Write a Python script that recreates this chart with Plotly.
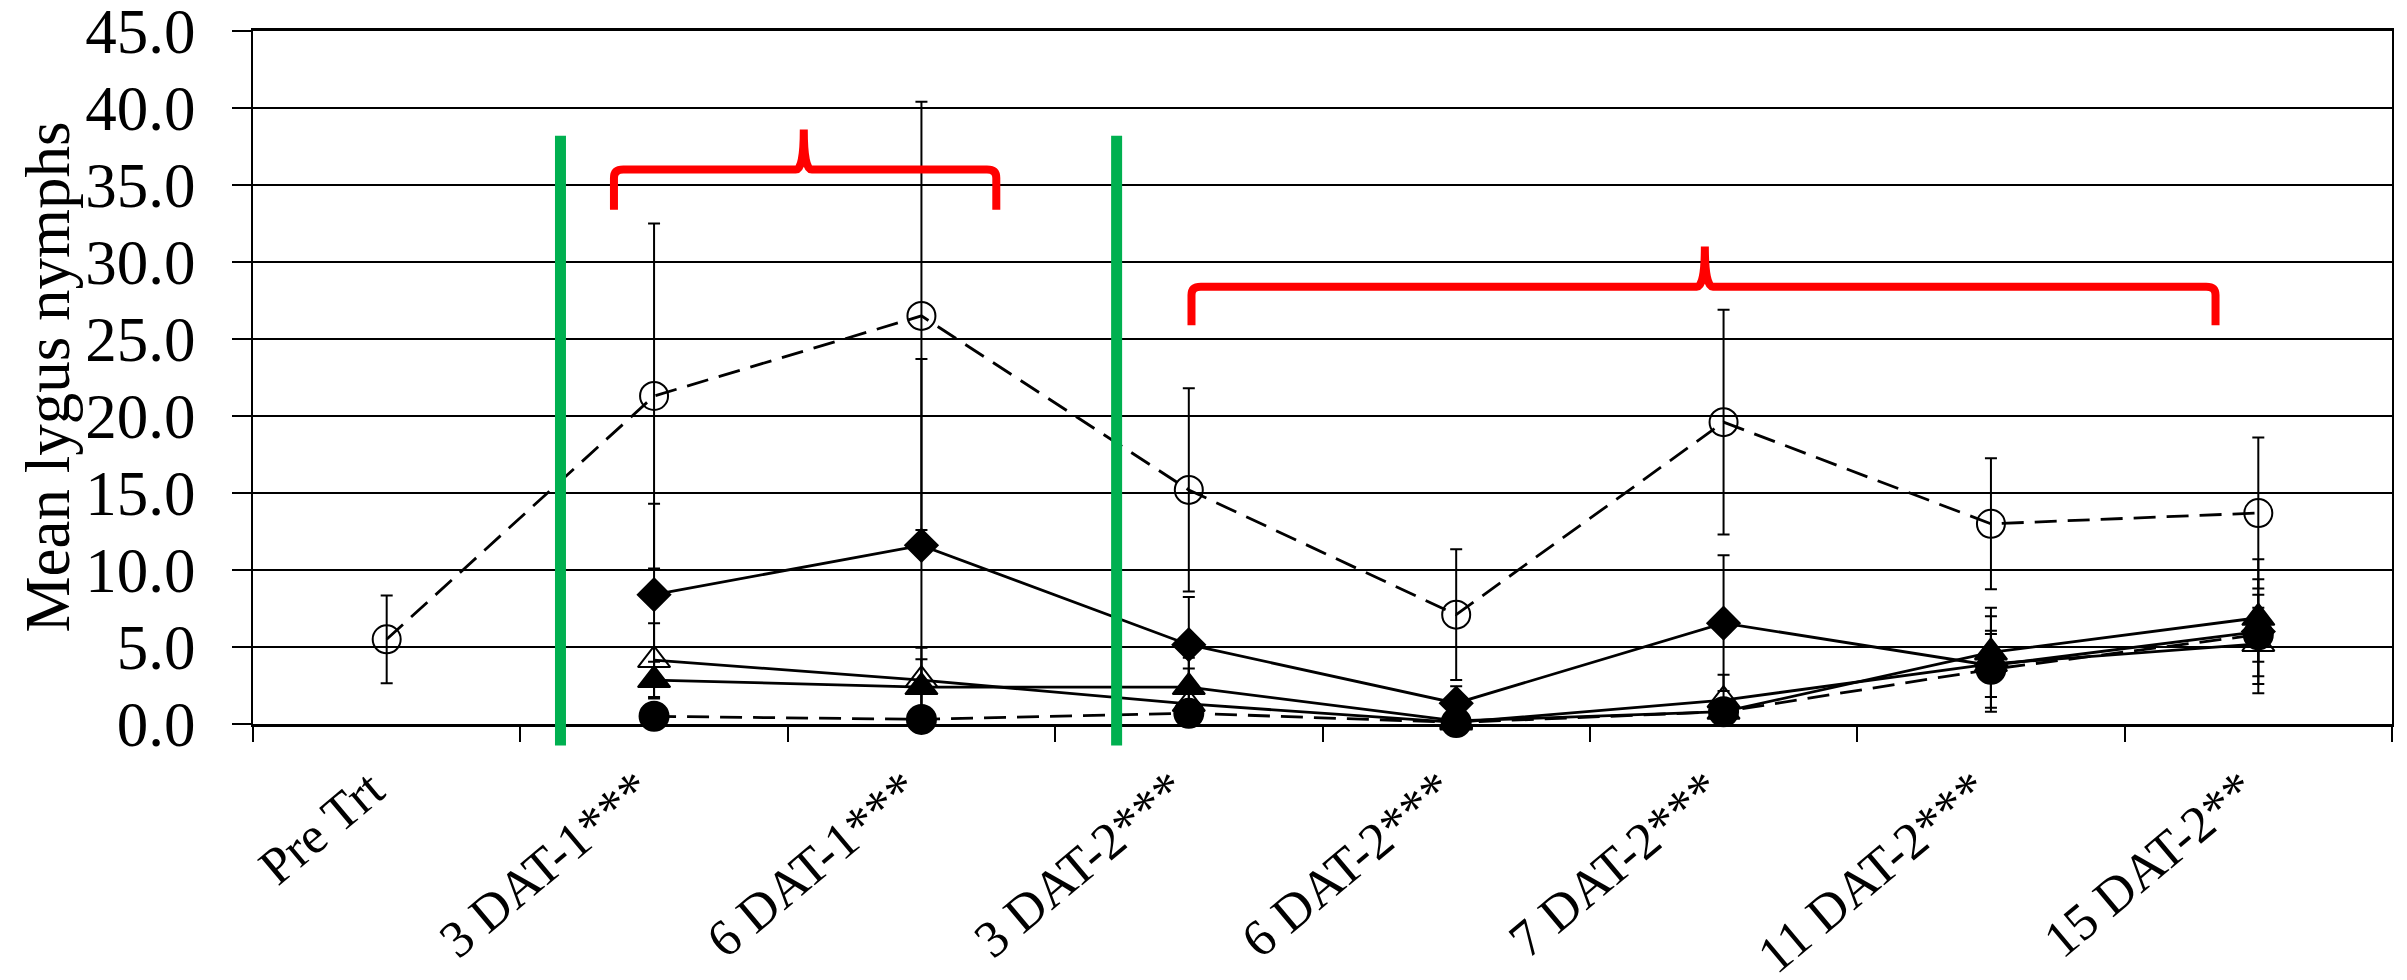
import plotly.graph_objects as go

# ---------------- data ----------------
categories = ["Pre Trt", "3 DAT-1***", "6 DAT-1***", "3 DAT-2***",
              "6 DAT-2***", "7 DAT-2***", "11 DAT-2***", "15 DAT-2**"]

open_circle = [5.5, 21.3, 26.5, 15.2, 7.1, 19.6, 13.0, 13.7]
open_circle_err = [2.85, 11.2, 13.9, 6.6, 4.25, 7.3, 4.25, 4.9]

diamond = [None, 8.4, 11.6, 5.15, 1.35, 6.55, 3.8, 6.0]
diamond_err = [None, 5.9, 12.1, 3.1, 1.1, 4.4, 2.05, 3.4]

open_triangle = [None, 4.15, 2.85, 1.3, 0.1, 1.55, 3.9, 5.2]
open_triangle_err = [None, 2.4, 2.1, 2.3, 0.3, 1.65, 3.1, 3.2]

filled_triangle = [None, 2.85, 2.4, 2.4, 0.2, 0.8, 4.65, 6.9]
filled_triangle_err = [None, 1.2, 1.8, 1.9, 0.3, 0.6, 2.9, 3.8]

filled_circle = [None, 0.5, 0.3, 0.7, 0.1, 0.8, 3.55, 5.8]
filled_circle_err = [None, 0.4, 0.3, 0.5, 0.2, 0.5, 2.5, 1.75]

y_ticks = [0, 5, 10, 15, 20, 25, 30, 35, 40, 45]
y_title = "Mean lygus nymphs"

# treatment markers (x in category units, y in data units)
green_lines_x = [0.65, 2.73]
green_line_y = (-1.4, 38.2)
braces = [  # x_left, x_mid, x_right, y_end, y_bar, y_peak
    (0.85, 1.56, 2.28, 33.4, 36.0, 38.6),
    (3.01, 4.93, 6.84, 25.9, 28.4, 31.0),
]

# ---------------- figure ----------------
FONT = "Liberation Serif"
Y_MIN, Y_MAX = 0, 45
x = list(range(len(categories)))


def err_arrays(vals, errs):
    plus = [e if e is not None else 0 for e in errs]
    minus = [min(e, v) if (e is not None and v is not None) else 0
             for v, e in zip(vals, errs)]
    return plus, minus


series = [
    (open_circle, open_circle_err, "circle-open", 28, "22px,11px"),
    (diamond, diamond_err, "diamond", 25, "solid"),
    (open_triangle, open_triangle_err, "triangle-up-open", 28, "solid"),
    (filled_triangle, filled_triangle_err, "triangle-up", 28, "solid"),
    (filled_circle, filled_circle_err, "circle", 29, "22px,11px"),
]

fig = go.Figure()
for vals, errs, sym, size, dash in series:
    plus, minus = err_arrays(vals, errs)
    fig.add_trace(go.Scatter(
        x=x, y=vals, mode="lines+markers",
        line=dict(color="black", width=2.8, dash=dash),
        marker=dict(symbol=sym, size=size, color="black",
                    line=dict(color="black", width=2)),
        error_y=dict(type="data", symmetric=False, array=plus, arrayminus=minus,
                     color="black", thickness=2, width=6),
        cliponaxis=False, showlegend=False,
    ))

shapes = []
for gx in green_lines_x:
    shapes.append(dict(
        type="line", xref="x", yref="paper", layer="above",
        x0=gx, x1=gx,
        y0=(green_line_y[0] - Y_MIN) / (Y_MAX - Y_MIN),
        y1=(green_line_y[1] - Y_MIN) / (Y_MAX - Y_MIN),
        line=dict(color="#00B050", width=11),
    ))

for xl, xm, xr, ye, yb, yp in braces:
    dx = 0.035   # corner size (x units)
    dy = 0.55    # corner size (y units)
    dm = 0.03
    path = (f"M{xl},{ye} L{xl},{yb - dy} Q{xl},{yb} {xl + dx},{yb} "
            f"L{xm - dm},{yb} Q{xm},{yb} {xm},{yp} "
            f"Q{xm},{yb} {xm + dm},{yb} "
            f"L{xr - dx},{yb} Q{xr},{yb} {xr},{yb - dy} L{xr},{ye}")
    shapes.append(dict(type="path", xref="x", yref="y", path=path, layer="above",
                       line=dict(color="#FF0000", width=8)))

fig.update_layout(
    width=2407, height=980,
    margin=dict(l=245, r=23, t=23, b=264, autoexpand=False),
    paper_bgcolor="white", plot_bgcolor="white",
    font=dict(family=FONT, color="black"),
    shapes=shapes,
    annotations=[dict(
        text=y_title, xref="paper", yref="paper", x=0, y=0.5,
        xanchor="center", yanchor="middle", xshift=-206, textangle=-90,
        showarrow=False, font=dict(family=FONT, size=63, color="black"),
    )],
    xaxis=dict(
        range=[-0.5, len(categories) - 0.5], automargin=False,
        tickmode="array", tickvals=x, ticktext=categories,
        tickangle=-40, ticks="", showgrid=False, zeroline=False,
        tickfont=dict(family=FONT, size=52, color="black"),
        showline=True, linecolor="black", linewidth=2.5, mirror=True,
        minor=dict(tick0=-0.5, dtick=1, ticks="outside", ticklen=15,
                   tickwidth=2, tickcolor="black", showgrid=False),
        ticklabelstandoff=12, ticklabelshift=-16,
    ),
    yaxis=dict(
        range=[Y_MIN, Y_MAX], tickmode="array", tickvals=y_ticks,
        tickformat=".1f", automargin=False,
        ticks="outside", ticklen=19, tickwidth=2, tickcolor="black",
        showgrid=True, gridcolor="black", gridwidth=2, zeroline=False,
        showline=True, linecolor="black", linewidth=2, mirror=True,
        tickfont=dict(family=FONT, size=63, color="black"),
        ticklabelstandoff=24, ticklabeloverflow="allow",
    ),
)

fig.write_html("out.html")
